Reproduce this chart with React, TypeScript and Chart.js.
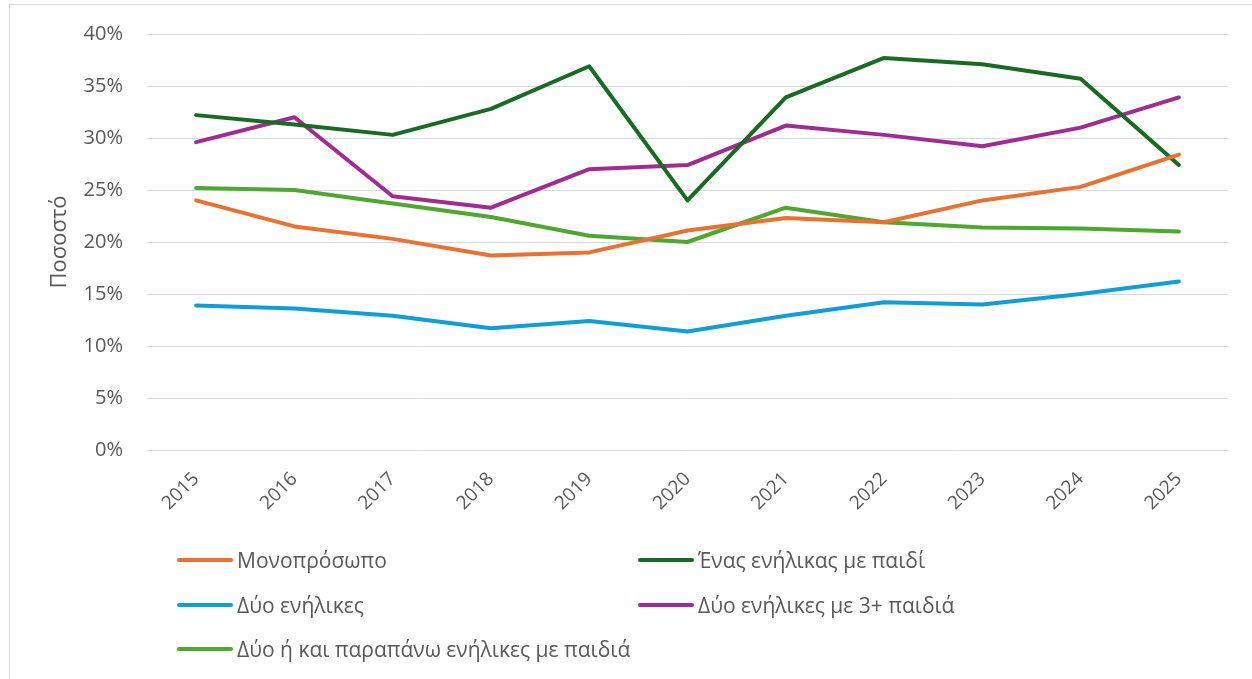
import React, { useEffect, useRef } from "react";
import { Chart, registerables } from "chart.js";

Chart.register(...registerables);

const years = ["2015", "2016", "2017", "2018", "2019", "2020", "2021", "2022", "2023", "2024", "2025"];
const yTicks = [0, 5, 10, 15, 20, 25, 30, 35, 40];

const monoprosopo = [24.0, 21.5, 20.3, 18.7, 19.0, 21.1, 22.3, 21.9, 24.0, 25.3, 28.4];
const enasEnilikasMePaidi = [32.2, 31.3, 30.3, 32.8, 36.9, 24.0, 33.9, 37.7, 37.1, 35.7, 27.4];
const dyoEnilikes = [13.9, 13.6, 12.9, 11.7, 12.4, 11.4, 12.9, 14.2, 14.0, 15.0, 16.2];
const dyoEnilikesMe3 = [29.6, 32.0, 24.4, 23.3, 27.0, 27.4, 31.2, 30.3, 29.2, 31.0, 33.9];
const dyoKaiParapano = [25.2, 25.0, 23.7, 22.4, 20.6, 20.0, 23.3, 21.9, 21.4, 21.3, 21.0];

const seriesNames = [
  "Μονοπρόσωπο",
  "Ένας ενήλικας με παιδί",
  "Δύο ενήλικες",
  "Δύο ενήλικες με 3+ παιδιά",
  "Δύο ή και παραπάνω ενήλικες με παιδιά",
];
const seriesColors = ["#E97132", "#196B24", "#0F9ED5", "#A02B93", "#4EA72E"];
const seriesData = [monoprosopo, enasEnilikasMePaidi, dyoEnilikes, dyoEnilikesMe3, dyoKaiParapano];

const FONT = "'Open Sans', 'Noto Sans', sans-serif";
const TEXT = "#595959";

export default function App() {
  const ref = useRef<HTMLCanvasElement | null>(null);

  useEffect(() => {
    if (!ref.current) return;
    const chart = new Chart(ref.current, {
      type: "line",
      data: {
        labels: years,
        datasets: seriesData.map((d, i) => ({
          label: seriesNames[i],
          data: d,
          borderColor: seriesColors[i],
          backgroundColor: seriesColors[i],
          borderWidth: 4,
          pointRadius: 0,
          tension: 0,
          borderCapStyle: "round" as const,
          borderJoinStyle: "round" as const,
        })),
      },
      options: {
        animation: false,
        responsive: false,
        maintainAspectRatio: false,
        layout: { padding: { left: 0, right: 24, top: 34, bottom: 0 } },
        plugins: {
          legend: { display: false },
          tooltip: { enabled: false },
        },
        scales: {
          x: {
            offset: true,
            grid: { display: false },
            border: { display: false },
            ticks: {
              color: TEXT,
              font: { family: FONT, size: 19 },
              maxRotation: 45,
              minRotation: 45,
              padding: 10,
            },
            afterFit: (s: any) => {
              s.height = 229;
            },
          },
          y: {
            min: 0,
            max: 40,
            afterBuildTicks: (s: any) => {
              s.ticks = yTicks.map((v) => ({ value: v }));
            },
            grid: {
              color: "#d9d9d9",
              lineWidth: 1,
              drawTicks: true,
              tickLength: 24,
              tickColor: "rgba(0,0,0,0)",
            },
            border: { display: false },
            ticks: {
              color: TEXT,
              font: { family: FONT, size: 20 },
              padding: 0,
              callback: (v: any) => v + "%",
            },
            title: {
              display: true,
              text: "Ποσοστό",
              color: TEXT,
              font: { family: FONT, size: 22 },
              padding: { top: 47, bottom: 0 },
            },
            afterFit: (s: any) => {
              s.width = 147;
            },
          },
        },
      },
    });
    return () => chart.destroy();
  }, []);

  const legendPos = [
    { x: 177, y: 560 },
    { x: 638, y: 560 },
    { x: 177, y: 605 },
    { x: 638, y: 605 },
    { x: 177, y: 649 },
  ];

  return (
    <div style={{ position: "fixed", left: 0, top: 0, width: 1252, height: 679, background: "#fff", overflow: "hidden" }}>
      <div style={{ position: "absolute", left: 9, top: 4, width: 1300, height: 800, border: "1px solid #d9d9d9" }} />
      <canvas ref={ref} width={1252} height={679} style={{ position: "absolute", left: 0, top: 0 }} />
      {legendPos.map((p, i) => (
        <div
          key={i}
          style={{
            position: "absolute",
            left: p.x,
            top: p.y - 16,
            height: 32,
            display: "flex",
            alignItems: "center",
            fontFamily: FONT,
            fontSize: 21,
            color: TEXT,
            whiteSpace: "nowrap",
          }}
        >
          <span
            style={{
              display: "inline-block",
              width: 56,
              height: 4,
              borderRadius: 2,
              background: seriesColors[i],
              marginRight: 4,
            }}
          />
          <span>{seriesNames[i]}</span>
        </div>
      ))}
    </div>
  );
}
